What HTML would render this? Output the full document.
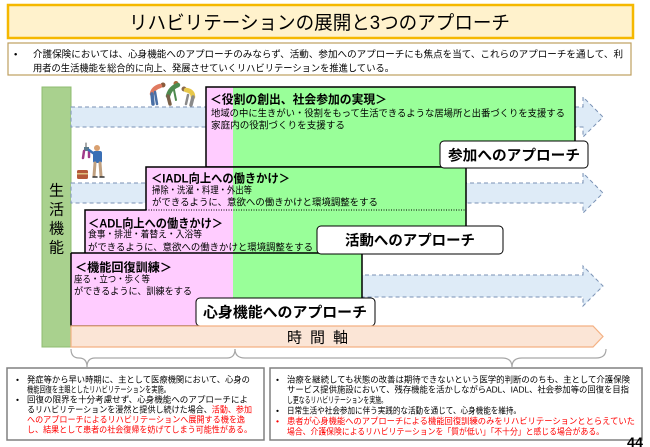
<!DOCTYPE html>
<html><head><meta charset="utf-8">
<style>
html,body{margin:0;padding:0;background:#fff;}
svg{display:block;}
text{font-family:"Liberation Sans","Noto Sans CJK JP",sans-serif;fill:#000;}
.b{font-weight:bold;}
.r{fill:#ff0000;}
</style></head>
<body>
<svg width="650" height="447" viewBox="0 0 650 447" xmlns="http://www.w3.org/2000/svg">
<!-- Title -->
<rect x="8" y="5" width="625" height="33" fill="#fff2cc" stroke="#f5b800" stroke-width="2.5"/>
<text x="129" y="29" font-size="19" textLength="381" lengthAdjust="spacingAndGlyphs">リハビリテーションの展開と3つのアプローチ</text>
<!-- Description -->
<rect x="8" y="43" width="623" height="32" fill="#fff" stroke="#bf9f5f" stroke-width="1.2"/>
<text x="14" y="57.6" font-size="9.5">•</text>
<text x="33" y="57.6" font-size="9.5" textLength="590" lengthAdjust="spacingAndGlyphs">介護保険においては、心身機能へのアプローチのみならず、活動、参加へのアプローチにも焦点を当て、これらのアプローチを通して、利</text>
<text x="33" y="71.6" font-size="9.5" textLength="361" lengthAdjust="spacingAndGlyphs">用者の生活機能を総合的に向上、発展させていくリハビリテーションを推進している。</text>

<!-- Green bar -->
<rect x="42" y="87" width="29" height="260" fill="#a9d18e" stroke="#8fbc70" stroke-width="1"/>
<text x="49" y="195.7" font-size="15">生</text>
<text x="49" y="214.7" font-size="15">活</text>
<text x="49" y="233.7" font-size="15">機</text>
<text x="49" y="252.7" font-size="15">能</text>

<!-- Dashed arrow bands -->
<g fill="#deebf7" stroke="#7a92b5" stroke-width="1" stroke-dasharray="4,3">
<polygon points="71,107 583,107 583,97 603,117 583,137 583,127 71,127"/>
<polygon points="71,183 583,183 583,173 603,193 583,213 583,203 71,203"/>
<polygon points="71,275 583,275 583,266 603,286 583,306 583,297 71,297"/>
</g>

<!-- Box A -->
<rect x="206" y="87" width="27" height="80" fill="#ffccff"/>
<rect x="233" y="87" width="342" height="80" fill="#99ff99"/>
<rect x="206" y="87" width="369" height="80" fill="none" stroke="#000" stroke-width="1.5"/>
<text x="210" y="103.5" font-size="12" class="b" textLength="177" lengthAdjust="spacingAndGlyphs">＜役割の創出、社会参加の実現＞</text>
<text x="211" y="116.6" font-size="9.5" textLength="354" lengthAdjust="spacingAndGlyphs">地域の中に生きがい・役割をもって生活できるような居場所と出番づくりを支援する</text>
<text x="211" y="128.6" font-size="9.5" textLength="134" lengthAdjust="spacingAndGlyphs">家庭内の役割づくりを支援する</text>

<!-- Box B (IADL) -->
<rect x="146" y="167" width="87" height="43" fill="#ffccff"/>
<rect x="233" y="167" width="233" height="43" fill="#99ff99"/>
<!-- Box C (ADL) -->
<rect x="85" y="210" width="148" height="43" fill="#ffccff"/>
<rect x="233" y="210" width="233" height="43" fill="#99ff99"/>
<!-- Box D -->
<rect x="71" y="253" width="162" height="73" fill="#ffccff"/>
<rect x="233" y="253" width="129" height="73" fill="#99ff99"/>

<g stroke="#000" stroke-width="1.5" fill="none">
<polyline points="146,210 146,167 466,167 466,253"/>
<polyline points="85,253 85,210 146,210"/>
<line x1="71" y1="253" x2="466" y2="253"/>
<polyline points="71,253 71,326 362,326 362,253"/>
</g>
<line x1="146" y1="210" x2="466" y2="210" stroke="#000" stroke-width="1" stroke-dasharray="1,1.5"/>

<text x="151" y="182.5" font-size="12" class="b" textLength="139" lengthAdjust="spacingAndGlyphs">＜IADL向上への働きかけ＞</text>
<text x="152" y="193.6" font-size="9.5" textLength="100" lengthAdjust="spacingAndGlyphs">掃除・洗濯・料理・外出等</text>
<text x="152" y="205.6" font-size="9.5" textLength="226" lengthAdjust="spacingAndGlyphs">ができるように、意欲への働きかけと環境調整をする</text>

<text x="88" y="227.5" font-size="12" class="b" textLength="135" lengthAdjust="spacingAndGlyphs">＜ADL向上への働きかけ＞</text>
<text x="88" y="237.6" font-size="9.5" textLength="114" lengthAdjust="spacingAndGlyphs">食事・排泄・着替え・入浴等</text>
<text x="88" y="250.4" font-size="9.5" textLength="225" lengthAdjust="spacingAndGlyphs">ができるように、意欲への働きかけと環境調整をする</text>

<text x="75" y="271.5" font-size="12" class="b" textLength="97" lengthAdjust="spacingAndGlyphs">＜機能回復訓練＞</text>
<text x="74" y="282.6" font-size="9.5" textLength="76" lengthAdjust="spacingAndGlyphs">座る・立つ・歩く等</text>
<text x="74" y="294.6" font-size="9.5" textLength="118" lengthAdjust="spacingAndGlyphs">ができるように、訓練をする</text>

<!-- Labels -->
<g fill="#fff" stroke="#000" stroke-width="1">
<rect x="440" y="141" width="148" height="27" rx="4"/>
<rect x="317" y="226" width="186" height="28" rx="4"/>
<rect x="196" y="298" width="179" height="28" rx="4"/>
</g>
<text x="448" y="160.5" font-size="14.5" class="b" textLength="132" lengthAdjust="spacingAndGlyphs">参加へのアプローチ</text>
<text x="345" y="245.5" font-size="14.5" class="b" textLength="130" lengthAdjust="spacingAndGlyphs">活動へのアプローチ</text>
<text x="203" y="317.5" font-size="14.5" class="b" textLength="164" lengthAdjust="spacingAndGlyphs">心身機能へのアプローチ</text>

<!-- Time axis -->
<polygon points="71,326 593,326 603,336.5 593,347 71,347" fill="#fbe5d6" stroke="#f4b183" stroke-width="1.2"/>
<text x="287" y="342.7" font-size="15">時</text>
<text x="310" y="342.7" font-size="15">間</text>
<text x="333" y="342.7" font-size="15">軸</text>

<!-- Braces -->
<g fill="none" stroke="#a6a6a6" stroke-width="1.2">
<path d="M71,349 Q71,358 79,358 Q87,358 87,367 Q87,358 95,358 L227,358 Q235,358 235,349"/>
<path d="M235,349 Q235,358 245,358 L502,358 Q512,358 512,367 Q512,358 522,358 L596,358 Q606,358 606,349"/>
</g>

<!-- Bottom boxes -->
<rect x="7" y="368" width="257" height="72" fill="#fff" stroke="#808080" stroke-width="1.5"/>
<rect x="270" y="368" width="372" height="72" fill="#fff" stroke="#808080" stroke-width="1.5"/>

<g font-size="8.6">
<text x="16" y="382.3" font-size="8.6">•</text>
<text x="27" y="382.3" font-size="8.6" textLength="223" lengthAdjust="spacingAndGlyphs">発症等から早い時期に、主として医療機関において、心身の</text>
<text x="27" y="392.3" font-size="8.6" textLength="143" lengthAdjust="spacingAndGlyphs">機能回復を主眼としたリハビリテーションを実施。</text>
<text x="16" y="402.3" font-size="8.6">•</text>
<text x="27" y="402.3" font-size="8.6" textLength="221" lengthAdjust="spacingAndGlyphs">回復の限界を十分考慮せず、心身機能へのアプローチによ</text>
<text x="27" y="412.3" font-size="8.6" textLength="225" lengthAdjust="spacingAndGlyphs">るリハビリテーションを漫然と提供し続けた場合、<tspan class="r">活動、参加</tspan></text>
<text x="27" y="422.3" font-size="8.6" class="r" textLength="218" lengthAdjust="spacingAndGlyphs">へのアプローチによるリハビリテーションへ展開する機を逸</text>
<text x="27" y="432.3" font-size="8.6" class="r" textLength="225" lengthAdjust="spacingAndGlyphs">し、結果として患者の社会復帰を妨げてしまう可能性がある。</text>

<text x="276" y="382.3" font-size="8.6">•</text>
<text x="287" y="382.3" font-size="8.6" textLength="343" lengthAdjust="spacingAndGlyphs">治療を継続しても状態の改善は期待できないという医学的判断ののちも、主として介護保険</text>
<text x="287" y="392.7" font-size="8.6" textLength="342" lengthAdjust="spacingAndGlyphs">サービス提供施設において、残存機能を活かしながらADL、IADL、社会参加等の回復を目指</text>
<text x="287" y="403.1" font-size="8.6" textLength="100" lengthAdjust="spacingAndGlyphs">し更なるリハビリテーションを実施。</text>
<text x="276" y="413.5" font-size="8.6">•</text>
<text x="287" y="413.5" font-size="8.6" textLength="234" lengthAdjust="spacingAndGlyphs">日常生活や社会参加に伴う実践的な活動を通じて、心身機能を維持。</text>
<text x="276" y="423.9" font-size="8.6" class="r">•</text>
<text x="287" y="423.9" font-size="8.6" class="r" textLength="348" lengthAdjust="spacingAndGlyphs">患者が心身機能へのアプローチによる機能回復訓練のみをリハビリテーションととらえていた</text>
<text x="287" y="434.3" font-size="8.6" class="r" textLength="317" lengthAdjust="spacingAndGlyphs">場合、介護保険によるリハビリテーションを「質が低い」「不十分」と感じる場合がある。</text>
</g>

<text x="627" y="447" font-size="14" class="b" textLength="16" lengthAdjust="spacingAndGlyphs">44</text>

<!-- Figures: bowing people -->
<g stroke-linecap="round">
  <!-- left figure -->
  <circle cx="163" cy="85" r="2.5" fill="#8a5a3a"/>
  <path d="M160,86 Q153,88 152,94" stroke="#e07a60" stroke-width="4.5" fill="none"/>
  <path d="M152,94 L153,104" stroke="#4a6fa5" stroke-width="3.5" fill="none"/>
  <path d="M155,92 L157,104" stroke="#4a6fa5" stroke-width="2.5" fill="none"/>
  <!-- middle figure -->
  <circle cx="176" cy="83.5" r="2.5" fill="#a86b3c"/>
  <path d="M178,85 Q170,88 168,96" stroke="#4e8a4e" stroke-width="4.5" fill="none"/>
  <path d="M168,96 L170,104" stroke="#7a6048" stroke-width="3.5" fill="none"/>
  <path d="M174,90 L176,100" stroke="#4e8a4e" stroke-width="2" fill="none"/>
  <!-- right figure -->
  <circle cx="184" cy="89" r="2.5" fill="#8a6a4a"/>
  <path d="M186,90 Q193,91 193,97" stroke="#e8c84a" stroke-width="4.5" fill="none"/>
  <path d="M193,97 L191,105" stroke="#8a8a8a" stroke-width="3.5" fill="none"/>
  <path d="M188,95 L186,104" stroke="#8a8a8a" stroke-width="2.5" fill="none"/>
</g>
<!-- Figure: person with laundry -->
<g stroke-linecap="round">
  <path d="M86,143 L86,147" stroke="#555" stroke-width="1"/>
  <rect x="84" y="147" width="5" height="4" fill="#5a7a8a"/>
  <path d="M84,151 L83,158 M89,151 L89,157" stroke="#a03a8a" stroke-width="2.5"/>
  <circle cx="97" cy="148" r="3" fill="#d9a070"/>
  <rect x="93" y="151" width="9" height="12" rx="2" fill="#3a6fb5"/>
  <path d="M93,153 L89,150" stroke="#3a6fb5" stroke-width="2.5"/>
  <path d="M95,163 L94,176 M100,163 L101,176" stroke="#c0a080" stroke-width="3"/>
  <path d="M93,177 L97,177 M100,177 L104,177" stroke="#333" stroke-width="1.5"/>
  <rect x="77" y="170" width="11" height="9" rx="1.5" fill="#b5593a"/>
  <rect x="77" y="173" width="11" height="1.5" fill="#e0c080"/>
</g>
</svg>
</body></html>
